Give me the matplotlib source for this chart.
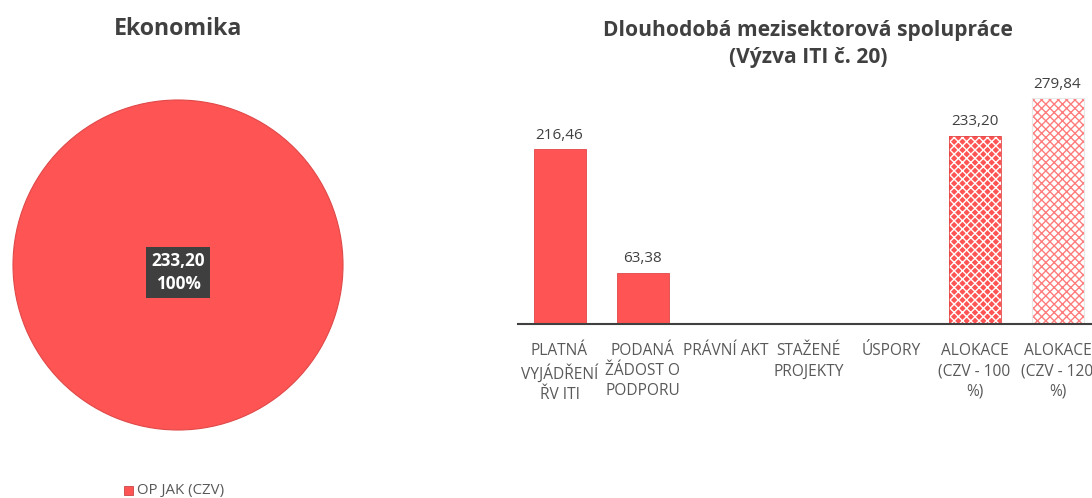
import matplotlib
matplotlib.use("Agg")
import matplotlib.pyplot as plt
from matplotlib.patches import Rectangle

plt.rcParams['font.family'] = ['Open Sans', 'DejaVu Sans']
plt.rcParams['hatch.linewidth'] = 1.0

# ---- data ----
pie_labels = ["OP JAK (CZV)"]
pie_values = [233.20]

bar_categories = ["PLATNÁ\nVYJÁDŘENÍ\nŘV ITI", "PODANÁ\nŽÁDOST O\nPODPORU", "PRÁVNÍ AKT",
                  "STAŽENÉ\nPROJEKTY", "ÚSPORY", "ALOKACE\n(CZV - 100\n%)", "ALOKACE\n(CZV - 120\n%)"]
bar_values = [216.46, 63.38, 0, 0, 0, 233.20, 279.84]
bar_value_labels = ["216,46", "63,38", None, None, None, "233,20", "279,84"]

pie_title = "Ekonomika"
bar_title = "Dlouhodobá mezisektorová spolupráce\n(Výzva ITI č. 20)"

RED = "#FF5454"
TXT = "#404040"
TICK = "#595959"

W, H = 1092, 498
fig = plt.figure(figsize=(W / 100, H / 100), dpi=100)

def box(l, t, r, b):
    return [l / W, 1 - b / H, (r - l) / W, (b - t) / H]

# ---- pie ----
axp = fig.add_axes(box(13, 100, 343, 430))
wedges, _ = axp.pie(pie_values, colors=[RED], startangle=90,
                    wedgeprops=dict(edgecolor="#E04848", linewidth=0.8))
axp.set_xlim(-1, 1)
axp.set_ylim(-1, 1)
axp.set_aspect("equal")
axp.axis("off")
total = sum(pie_values)
axp.text(0, -0.045, f"{pie_values[0]:.2f}".replace(".", ",") + f"\n{pie_values[0] / total * 100:.0f}%",
         ha="center", va="center", color="white", fontsize=12.3, fontweight="bold", linespacing=1.35,
         bbox=dict(boxstyle="square,pad=0.32", facecolor="#3F3F3F", edgecolor="none"))

fig.text(178 / W, 1 - 29 / H, pie_title, ha="center", va="center", fontsize=16.7,
         fontweight="bold", color=TXT)

# legend
fig.patches.append(Rectangle((124 / W, 1 - 495 / H), 9 / W, 9 / H, transform=fig.transFigure,
                             facecolor=RED, edgecolor="#C03030", linewidth=0.5))
fig.text(137 / W, 1 - 490 / H, pie_labels[0], ha="left", va="center", fontsize=10.8, color=TICK)

# ---- bars ----
spacing = 83.0
axb = fig.add_axes(box(518, 82, 1092, 324))
x = list(range(len(bar_categories)))
width = 52 / spacing
for i, v in enumerate(bar_values):
    if v <= 0:
        continue
    if i == 5:
        axb.bar(i, v, width=width, color=RED, edgecolor="white", hatch="xxxx", linewidth=0)
        axb.bar(i, v, width=width, color="none", edgecolor="#E04848", linewidth=0.6)
    elif i == 6:
        axb.bar(i, v, width=width, color="white", edgecolor="#FF7C7C", hatch="xxxx", linewidth=0)
        axb.bar(i, v, width=width, color="none", edgecolor="#E8E8E8", linewidth=0.8)
    else:
        axb.bar(i, v, width=width, color=RED, edgecolor="#E04848", linewidth=0.6)
    axb.text(i, v + 8, bar_value_labels[i], ha="center", va="bottom", fontsize=11, color=TXT)

axb.set_xlim(-0.5, -0.5 + (1092 - 518) / spacing)
axb.set_ylim(0, 300)
axb.set_xticks(x)
axb.set_xticklabels(bar_categories, fontsize=11.2, color=TICK, linespacing=1.33)
axb.tick_params(axis="x", length=0, pad=14)
axb.set_yticks([])
for s in ["left", "right", "top"]:
    axb.spines[s].set_visible(False)
axb.spines["bottom"].set_color("#404040")
axb.spines["bottom"].set_linewidth(1.5)
axb.patch.set_alpha(0)

fig.text(808 / W, 1 - 44 / H, bar_title, ha="center", va="center", fontsize=15.1,
         fontweight="bold", color=TXT, linespacing=1.4)

fig.savefig("out.png", dpi=100)
